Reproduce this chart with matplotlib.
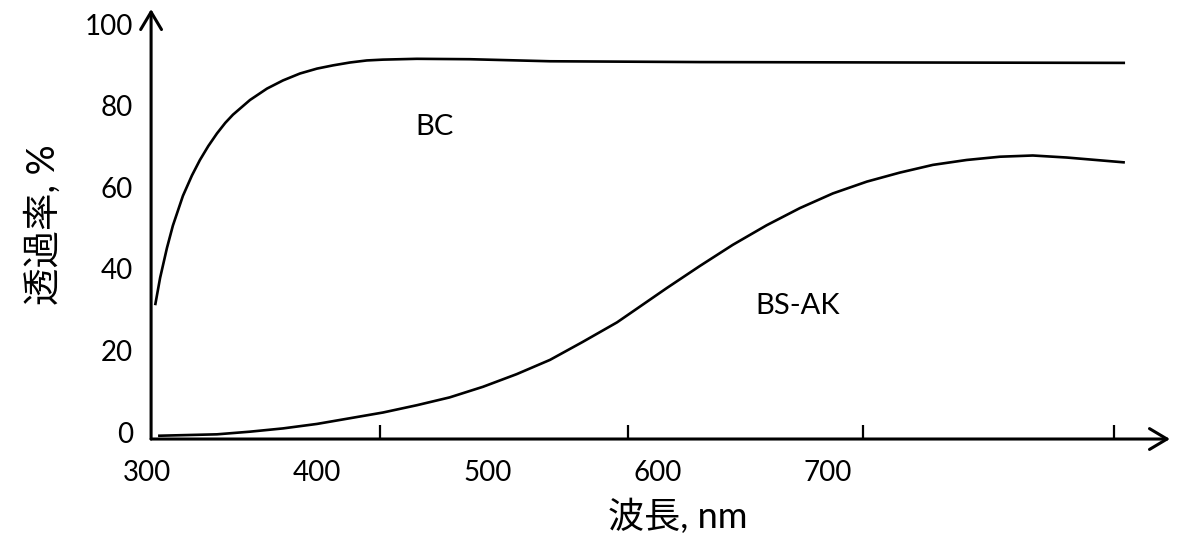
import matplotlib
matplotlib.use("Agg")
import matplotlib.pyplot as plt
from matplotlib.transforms import ScaledTranslation

plt.rcParams['font.family'] = ['Lato', 'Noto Sans CJK JP', 'DejaVu Sans']

# --- data ---
bc_wavelength = [304.9, 307.8, 311.8, 315.3, 321.2, 326.5, 331.2, 336.1, 341.2, 346.1,
                 350.6, 360.6, 370.6, 380.0, 390.0, 400.0, 409.5, 419.4, 429.3, 438.8,
                 458.7, 489.9, 536.9, 625.0, 742.6, 874.8]
bc_trans = [32.8, 39.5, 46.8, 52.3, 59.6, 64.6, 68.4, 71.8, 74.9, 77.5,
            79.5, 83.1, 85.9, 87.9, 89.6, 90.8, 91.6, 92.3, 92.8, 93.0,
            93.2, 93.1, 92.6, 92.4, 92.3, 92.2]

bsak_wavelength = [306.6, 341.2, 360.6, 380.0, 400.0, 419.4, 438.8, 458.8, 477.9, 497.5,
                   517.3, 536.9, 556.1, 576.3, 585.7, 605.5, 624.9, 644.3, 664.2, 683.7,
                   703.1, 723.1, 742.4, 761.9, 781.7, 801.3, 820.6, 840.6, 874.7]
bsak_trans = [0.8, 1.15, 1.8, 2.6, 3.7, 5.1, 6.5, 8.3, 10.2, 12.8,
              15.9, 19.4, 23.8, 28.6, 31.3, 37.0, 42.4, 47.6, 52.4, 56.6,
              60.2, 63.1, 65.3, 67.2, 68.4, 69.2, 69.5, 69.0, 67.8]

x_tick_labels = [300, 400, 500, 600, 700]
x_tick_marks = [437.0, 582.7, 720.7, 868.2]
y_tick_labels = [0, 20, 40, 60, 80, 100]

series_names = ['BC', 'BS-AK']
name_positions = [(469.3, 76.5), (682.6, 32.6)]

x_label = '波長, nm'
y_label = '透過率, %'

# --- figure ---
fig = plt.figure(figsize=(11.86, 5.35), dpi=100)
ax = fig.add_axes([0.1238, 0.1794, 0.8627, 0.8037])
ax.set_xlim(300, 901.2)
ax.set_ylim(0, 105.4)

ax.plot(bc_wavelength, bc_trans, color='black', lw=1.9,
        solid_capstyle='butt', solid_joinstyle='round')
ax.plot(bsak_wavelength, bsak_trans, color='black', lw=1.9,
        solid_capstyle='butt', solid_joinstyle='round')

for name, (px, py) in zip(series_names, name_positions):
    ax.text(px, py, name, fontsize=21, ha='center', va='center')

# axes lines with arrows
y_axis_x = 302.5
for s in ax.spines.values():
    s.set_visible(False)
ax.spines['left'].set_position(('data', y_axis_x))

arrow_style = '->,head_length=0.42,head_width=0.25'
ax.annotate('', xy=(1.0, 0), xycoords=('axes fraction', 'data'),
            xytext=(y_axis_x, 0), textcoords='data',
            arrowprops=dict(arrowstyle=arrow_style, lw=2.2, color='black',
                            mutation_scale=30, shrinkA=0, shrinkB=0),
            annotation_clip=False)
ax.annotate('', xy=(y_axis_x, 1.0), xycoords=('data', 'axes fraction'),
            xytext=(y_axis_x, 0), textcoords='data',
            arrowprops=dict(arrowstyle=arrow_style, lw=2.2, color='black',
                            mutation_scale=30, shrinkA=0, shrinkB=0),
            annotation_clip=False)

ax.set_xticks(x_tick_labels)
ax.set_xticklabels([str(v) for v in x_tick_labels])
ax.set_xticks(x_tick_marks, minor=True)
ax.tick_params(axis='x', which='major', length=0, pad=15, labelsize=20)
ax.tick_params(axis='x', which='minor', direction='in', length=10, width=1.6,
               color='black')

ax.set_yticks(y_tick_labels)
ax.set_yticklabels([str(v) for v in y_tick_labels])
ax.tick_params(axis='y', length=0, pad=13, labelsize=20)
for lab in ax.get_yticklabels():
    lab.set_transform(lab.get_transform() + ScaledTranslation(0, 7 / 100, fig.dpi_scale_trans))

fig.text(678 / 1186, 1 - 516 / 535, x_label, fontsize=26, ha='center', va='center')
fig.text(43 / 1186, 1 - 225 / 535, y_label, fontsize=27, ha='center', va='center',
         rotation=90)

fig.savefig('out.png', dpi=100)
